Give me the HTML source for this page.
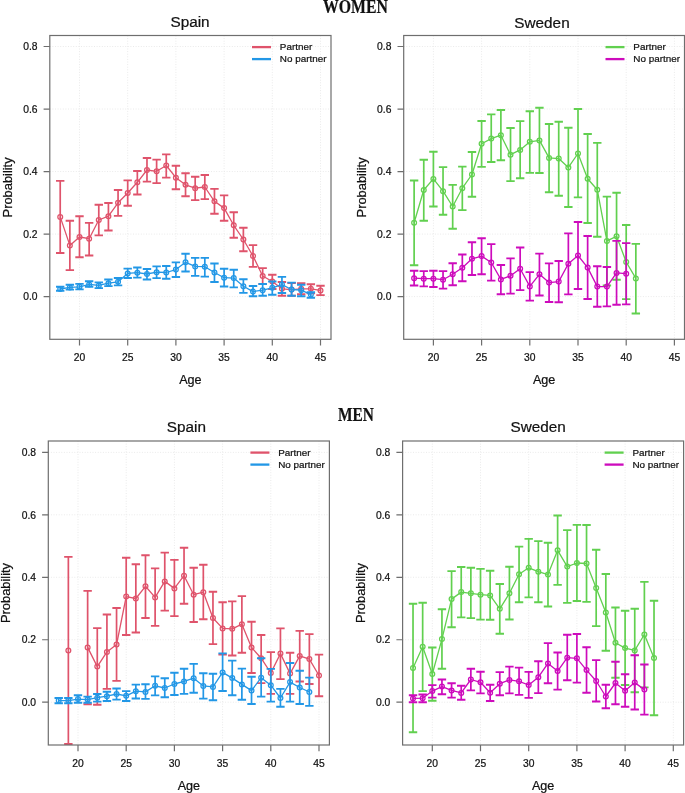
<!DOCTYPE html>
<html><head><meta charset="utf-8"><title>Probability by age</title>
<style>
html,body{margin:0;padding:0;background:#fff;}
body{width:685px;height:793px;overflow:hidden;position:relative;}
svg{position:absolute;left:0;top:0;will-change:transform;}
text{font-family:"Liberation Sans",sans-serif;stroke:#111;stroke-width:0.22px;}
.hd{font-family:"Liberation Serif",serif;font-weight:bold;}
</style></head>
<body>
<svg width="685" height="793" viewBox="0 0 685 793">
<rect width="685" height="793" fill="#fff"/>
<g stroke="#eaeaea" stroke-width="1" stroke-dasharray="1 1.6"><line x1="79.5" y1="35.5" x2="79.5" y2="339.3"/><line x1="127.7" y1="35.5" x2="127.7" y2="339.3"/><line x1="175.9" y1="35.5" x2="175.9" y2="339.3"/><line x1="224.1" y1="35.5" x2="224.1" y2="339.3"/><line x1="272.3" y1="35.5" x2="272.3" y2="339.3"/><line x1="320.5" y1="35.5" x2="320.5" y2="339.3"/><line x1="49.8" y1="296.6" x2="331" y2="296.6"/><line x1="49.8" y1="234.08" x2="331" y2="234.08"/><line x1="49.8" y1="171.56" x2="331" y2="171.56"/><line x1="49.8" y1="109.04" x2="331" y2="109.04"/><line x1="49.8" y1="46.52" x2="331" y2="46.52"/></g>
<path d="M60.22 180.9V253M69.86 220.7V270.1M79.5 216.2V257.2M89.14 222.9V255.5M98.78 204.7V235.4M108.42 203V230.5M118.06 190V215.9M127.7 180.4V205.7M137.34 171V194.5M146.98 158V181.6M156.62 159.6V183.1M166.26 154.4V177.6M175.9 165.8V189.2M185.54 173.3V196.2M195.18 176.8V200.1M204.82 175V199.1M214.46 188.9V213.7M224.1 195.4V220.7M233.74 212.3V237.8M243.38 227.8V251.3M253.02 245.1V266.9M262.66 268.1V284M272.3 274.8V289M281.94 282V295.7M291.58 283V295.7M301.22 283.3V294.2M310.86 284.2V293.2M320.5 285.8V295.1" stroke="#DF536B" stroke-width="1.7" fill="none"/>
<path d="M56.02 180.9H64.42M56.02 253H64.42M65.66 220.7H74.06M65.66 270.1H74.06M75.3 216.2H83.7M75.3 257.2H83.7M84.94 222.9H93.34M84.94 255.5H93.34M94.58 204.7H102.98M94.58 235.4H102.98M104.22 203H112.62M104.22 230.5H112.62M113.86 190H122.26M113.86 215.9H122.26M123.5 180.4H131.9M123.5 205.7H131.9M133.14 171H141.54M133.14 194.5H141.54M142.78 158H151.18M142.78 181.6H151.18M152.42 159.6H160.82M152.42 183.1H160.82M162.06 154.4H170.46M162.06 177.6H170.46M171.7 165.8H180.1M171.7 189.2H180.1M181.34 173.3H189.74M181.34 196.2H189.74M190.98 176.8H199.38M190.98 200.1H199.38M200.62 175H209.02M200.62 199.1H209.02M210.26 188.9H218.66M210.26 213.7H218.66M219.9 195.4H228.3M219.9 220.7H228.3M229.54 212.3H237.94M229.54 237.8H237.94M239.18 227.8H247.58M239.18 251.3H247.58M248.82 245.1H257.22M248.82 266.9H257.22M258.46 268.1H266.86M258.46 284H266.86M268.1 274.8H276.5M268.1 289H276.5M277.74 282H286.14M277.74 295.7H286.14M287.38 283H295.78M287.38 295.7H295.78M297.02 283.3H305.42M297.02 294.2H305.42M306.66 284.2H315.06M306.66 293.2H315.06M316.3 285.8H324.7M316.3 295.1H324.7" stroke="#DF536B" stroke-width="1.9" fill="none"/>
<path d="M60.22 216.9L69.86 245.4L79.5 237L89.14 238.7L98.78 220L108.42 216.2L118.06 202.8L127.7 193L137.34 182.3L146.98 170L156.62 171.3L166.26 165.5L175.9 177.7L185.54 184.8L195.18 188.2L204.82 187L214.46 201.3L224.1 208.1L233.74 225.3L243.38 239.5L253.02 256L262.66 276L272.3 281.5L281.94 288.8L291.58 289.6L301.22 288.8L310.86 288.8L320.5 290.4" stroke="#DF536B" stroke-width="1.3" fill="none" stroke-linejoin="round"/>
<g stroke="#DF536B" stroke-width="1.25" fill="none"><circle cx="60.22" cy="216.9" r="2.4"/><circle cx="69.86" cy="245.4" r="2.4"/><circle cx="79.5" cy="237" r="2.4"/><circle cx="89.14" cy="238.7" r="2.4"/><circle cx="98.78" cy="220" r="2.4"/><circle cx="108.42" cy="216.2" r="2.4"/><circle cx="118.06" cy="202.8" r="2.4"/><circle cx="127.7" cy="193" r="2.4"/><circle cx="137.34" cy="182.3" r="2.4"/><circle cx="146.98" cy="170" r="2.4"/><circle cx="156.62" cy="171.3" r="2.4"/><circle cx="166.26" cy="165.5" r="2.4"/><circle cx="175.9" cy="177.7" r="2.4"/><circle cx="185.54" cy="184.8" r="2.4"/><circle cx="195.18" cy="188.2" r="2.4"/><circle cx="204.82" cy="187" r="2.4"/><circle cx="214.46" cy="201.3" r="2.4"/><circle cx="224.1" cy="208.1" r="2.4"/><circle cx="233.74" cy="225.3" r="2.4"/><circle cx="243.38" cy="239.5" r="2.4"/><circle cx="253.02" cy="256" r="2.4"/><circle cx="262.66" cy="276" r="2.4"/><circle cx="272.3" cy="281.5" r="2.4"/><circle cx="281.94" cy="288.8" r="2.4"/><circle cx="291.58" cy="289.6" r="2.4"/><circle cx="301.22" cy="288.8" r="2.4"/><circle cx="310.86" cy="288.8" r="2.4"/><circle cx="320.5" cy="290.4" r="2.4"/></g>
<path d="M60.22 286.8V290.7M69.86 284.8V289.6M79.5 283.9V289.4M89.14 281.2V286.8M98.78 282.4V288.1M108.42 279.5V286.1M118.06 278V285.4M127.7 268.6V278M137.34 267.5V277.6M146.98 269V279.5M156.62 266.4V278.1M166.26 266V278.8M175.9 262.4V277M185.54 253.7V271.5M195.18 257.9V275.9M204.82 257.9V276.6M214.46 263.5V282M224.1 268.8V286.5M233.74 269.7V287.4M243.38 279.3V292.9M253.02 286V296.3M262.66 284V295.8M272.3 281.5V294.8M281.94 276.9V293M291.58 282.6V295.7M301.22 284.8V296.2M310.86 292.2V297.8" stroke="#2297E6" stroke-width="1.7" fill="none"/>
<path d="M56.02 286.8H64.42M56.02 290.7H64.42M65.66 284.8H74.06M65.66 289.6H74.06M75.3 283.9H83.7M75.3 289.4H83.7M84.94 281.2H93.34M84.94 286.8H93.34M94.58 282.4H102.98M94.58 288.1H102.98M104.22 279.5H112.62M104.22 286.1H112.62M113.86 278H122.26M113.86 285.4H122.26M123.5 268.6H131.9M123.5 278H131.9M133.14 267.5H141.54M133.14 277.6H141.54M142.78 269H151.18M142.78 279.5H151.18M152.42 266.4H160.82M152.42 278.1H160.82M162.06 266H170.46M162.06 278.8H170.46M171.7 262.4H180.1M171.7 277H180.1M181.34 253.7H189.74M181.34 271.5H189.74M190.98 257.9H199.38M190.98 275.9H199.38M200.62 257.9H209.02M200.62 276.6H209.02M210.26 263.5H218.66M210.26 282H218.66M219.9 268.8H228.3M219.9 286.5H228.3M229.54 269.7H237.94M229.54 287.4H237.94M239.18 279.3H247.58M239.18 292.9H247.58M248.82 286H257.22M248.82 296.3H257.22M258.46 284H266.86M258.46 295.8H266.86M268.1 281.5H276.5M268.1 294.8H276.5M277.74 276.9H286.14M277.74 293H286.14M287.38 282.6H295.78M287.38 295.7H295.78M297.02 284.8H305.42M297.02 296.2H305.42M306.66 292.2H315.06M306.66 297.8H315.06" stroke="#2297E6" stroke-width="1.9" fill="none"/>
<path d="M60.22 289L69.86 287.4L79.5 286.8L89.14 284.4L98.78 285.4L108.42 283.2L118.06 281.8L127.7 273.4L137.34 272.7L146.98 274L156.62 272.2L166.26 272.5L175.9 269.6L185.54 262.3L195.18 266.4L204.82 266.7L214.46 272.5L224.1 277.7L233.74 278.1L243.38 286.2L253.02 291.6L262.66 290.2L272.3 287.8L281.94 284.6L291.58 289.5L301.22 290.2L310.86 294.6" stroke="#2297E6" stroke-width="1.3" fill="none" stroke-linejoin="round"/>
<g stroke="#2297E6" stroke-width="1.25" fill="none"><circle cx="60.22" cy="289" r="2.4"/><circle cx="69.86" cy="287.4" r="2.4"/><circle cx="79.5" cy="286.8" r="2.4"/><circle cx="89.14" cy="284.4" r="2.4"/><circle cx="98.78" cy="285.4" r="2.4"/><circle cx="108.42" cy="283.2" r="2.4"/><circle cx="118.06" cy="281.8" r="2.4"/><circle cx="127.7" cy="273.4" r="2.4"/><circle cx="137.34" cy="272.7" r="2.4"/><circle cx="146.98" cy="274" r="2.4"/><circle cx="156.62" cy="272.2" r="2.4"/><circle cx="166.26" cy="272.5" r="2.4"/><circle cx="175.9" cy="269.6" r="2.4"/><circle cx="185.54" cy="262.3" r="2.4"/><circle cx="195.18" cy="266.4" r="2.4"/><circle cx="204.82" cy="266.7" r="2.4"/><circle cx="214.46" cy="272.5" r="2.4"/><circle cx="224.1" cy="277.7" r="2.4"/><circle cx="233.74" cy="278.1" r="2.4"/><circle cx="243.38" cy="286.2" r="2.4"/><circle cx="253.02" cy="291.6" r="2.4"/><circle cx="262.66" cy="290.2" r="2.4"/><circle cx="272.3" cy="287.8" r="2.4"/><circle cx="281.94" cy="284.6" r="2.4"/><circle cx="291.58" cy="289.5" r="2.4"/><circle cx="301.22" cy="290.2" r="2.4"/><circle cx="310.86" cy="294.6" r="2.4"/></g>
<rect x="49.8" y="35.5" width="281.2" height="303.8" fill="none" stroke="#6e6e6e" stroke-width="1.2"/>
<path d="M79.5 339.3V345.5M127.7 339.3V345.5M175.9 339.3V345.5M224.1 339.3V345.5M272.3 339.3V345.5M320.5 339.3V345.5M43.6 296.6H49.8M43.6 234.08H49.8M43.6 171.56H49.8M43.6 109.04H49.8M43.6 46.52H49.8" stroke="#6e6e6e" stroke-width="1.2" fill="none"/>
<g font-size="10.3" fill="#111111"><text x="79.5" y="361.1" text-anchor="middle">20</text><text x="127.7" y="361.1" text-anchor="middle">25</text><text x="175.9" y="361.1" text-anchor="middle">30</text><text x="224.1" y="361.1" text-anchor="middle">35</text><text x="272.3" y="361.1" text-anchor="middle">40</text><text x="320.5" y="361.1" text-anchor="middle">45</text><text x="37.5" y="300.3" text-anchor="end">0.0</text><text x="37.5" y="237.78" text-anchor="end">0.2</text><text x="37.5" y="175.26" text-anchor="end">0.4</text><text x="37.5" y="112.74" text-anchor="end">0.6</text><text x="37.5" y="50.22" text-anchor="end">0.8</text></g>
<text x="190.4" y="383.9" text-anchor="middle" font-size="12.6" fill="#111111">Age</text>
<text transform="translate(11.8 187.4) rotate(-90)" text-anchor="middle" font-size="12.85" fill="#111111">Probability</text>
<text x="190" y="27.3" text-anchor="middle" font-size="15.3" fill="#111111">Spain</text>
<path d="M252 47.1H271" stroke="#DF536B" stroke-width="2.3"/>
<path d="M252 59.1H271" stroke="#2297E6" stroke-width="2.3"/>
<g font-size="9.9" fill="#111111"><text x="279.8" y="50.2">Partner</text><text x="279.8" y="62.2">No partner</text></g>
<g stroke="#eaeaea" stroke-width="1" stroke-dasharray="1 1.6"><line x1="433.4" y1="35.5" x2="433.4" y2="339.3"/><line x1="481.6" y1="35.5" x2="481.6" y2="339.3"/><line x1="529.8" y1="35.5" x2="529.8" y2="339.3"/><line x1="578" y1="35.5" x2="578" y2="339.3"/><line x1="626.2" y1="35.5" x2="626.2" y2="339.3"/><line x1="674.4" y1="35.5" x2="674.4" y2="339.3"/><line x1="403.7" y1="296.6" x2="684.5" y2="296.6"/><line x1="403.7" y1="234.08" x2="684.5" y2="234.08"/><line x1="403.7" y1="171.56" x2="684.5" y2="171.56"/><line x1="403.7" y1="109.04" x2="684.5" y2="109.04"/><line x1="403.7" y1="46.52" x2="684.5" y2="46.52"/></g>
<path d="M414.12 180.5V265.2M423.76 159.8V220.8M433.4 151.8V206.5M443.04 167.1V214.8M452.68 184.9V228.7M462.32 166.6V210.1M471.96 152V196.7M481.6 121V166.9M491.24 114.4V162M500.88 110V160.2M510.52 128V181.1M520.16 121.1V178.2M529.8 111.2V172.9M539.44 107.8V173M549.08 124V192.3M558.72 121.7V195.8M568.36 127.7V207M578 109V197.4M587.64 134V223M597.28 142.9V236.8M606.92 196.6V285.5M616.56 192.7V279.8M626.2 225V299.1M635.84 243.9V313.5" stroke="#61D04F" stroke-width="1.7" fill="none"/>
<path d="M409.92 180.5H418.32M409.92 265.2H418.32M419.56 159.8H427.96M419.56 220.8H427.96M429.2 151.8H437.6M429.2 206.5H437.6M438.84 167.1H447.24M438.84 214.8H447.24M448.48 184.9H456.88M448.48 228.7H456.88M458.12 166.6H466.52M458.12 210.1H466.52M467.76 152H476.16M467.76 196.7H476.16M477.4 121H485.8M477.4 166.9H485.8M487.04 114.4H495.44M487.04 162H495.44M496.68 110H505.08M496.68 160.2H505.08M506.32 128H514.72M506.32 181.1H514.72M515.96 121.1H524.36M515.96 178.2H524.36M525.6 111.2H534M525.6 172.9H534M535.24 107.8H543.64M535.24 173H543.64M544.88 124H553.28M544.88 192.3H553.28M554.52 121.7H562.92M554.52 195.8H562.92M564.16 127.7H572.56M564.16 207H572.56M573.8 109H582.2M573.8 197.4H582.2M583.44 134H591.84M583.44 223H591.84M593.08 142.9H601.48M593.08 236.8H601.48M602.72 196.6H611.12M602.72 285.5H611.12M612.36 192.7H620.76M612.36 279.8H620.76M622 225H630.4M622 299.1H630.4M631.64 243.9H640.04M631.64 313.5H640.04" stroke="#61D04F" stroke-width="1.9" fill="none"/>
<path d="M414.12 222.8L423.76 190L433.4 178.9L443.04 191.2L452.68 206.5L462.32 188.2L471.96 174.5L481.6 143.7L491.24 138.6L500.88 135.2L510.52 154.7L520.16 149.9L529.8 141.8L539.44 140.4L549.08 157.9L558.72 158.6L568.36 167.4L578 153.5L587.64 178.7L597.28 189.8L606.92 240.9L616.56 236.3L626.2 262L635.84 278.4" stroke="#61D04F" stroke-width="1.3" fill="none" stroke-linejoin="round"/>
<g stroke="#61D04F" stroke-width="1.25" fill="none"><circle cx="414.12" cy="222.8" r="2.4"/><circle cx="423.76" cy="190" r="2.4"/><circle cx="433.4" cy="178.9" r="2.4"/><circle cx="443.04" cy="191.2" r="2.4"/><circle cx="452.68" cy="206.5" r="2.4"/><circle cx="462.32" cy="188.2" r="2.4"/><circle cx="471.96" cy="174.5" r="2.4"/><circle cx="481.6" cy="143.7" r="2.4"/><circle cx="491.24" cy="138.6" r="2.4"/><circle cx="500.88" cy="135.2" r="2.4"/><circle cx="510.52" cy="154.7" r="2.4"/><circle cx="520.16" cy="149.9" r="2.4"/><circle cx="529.8" cy="141.8" r="2.4"/><circle cx="539.44" cy="140.4" r="2.4"/><circle cx="549.08" cy="157.9" r="2.4"/><circle cx="558.72" cy="158.6" r="2.4"/><circle cx="568.36" cy="167.4" r="2.4"/><circle cx="578" cy="153.5" r="2.4"/><circle cx="587.64" cy="178.7" r="2.4"/><circle cx="597.28" cy="189.8" r="2.4"/><circle cx="606.92" cy="240.9" r="2.4"/><circle cx="616.56" cy="236.3" r="2.4"/><circle cx="626.2" cy="262" r="2.4"/><circle cx="635.84" cy="278.4" r="2.4"/></g>
<path d="M414.12 270.7V285.5M423.76 271.1V286.4M433.4 270.7V287M443.04 271.1V288.6M452.68 263.3V285.3M462.32 254.5V281.3M471.96 242.2V275M481.6 238.2V274.3M491.24 244.1V280.6M500.88 265V294.3M510.52 258.4V293.6M520.16 247.5V290.1M529.8 272.1V300.6M539.44 253.6V295.5M549.08 263.4V302M558.72 261V302.3M568.36 233.4V294.4M578 222V289M587.64 236V299M597.28 266.3V306.7M606.92 267V306.4M616.56 240.9V304.7M626.2 243.1V304.4" stroke="#CD0BBC" stroke-width="1.7" fill="none"/>
<path d="M409.92 270.7H418.32M409.92 285.5H418.32M419.56 271.1H427.96M419.56 286.4H427.96M429.2 270.7H437.6M429.2 287H437.6M438.84 271.1H447.24M438.84 288.6H447.24M448.48 263.3H456.88M448.48 285.3H456.88M458.12 254.5H466.52M458.12 281.3H466.52M467.76 242.2H476.16M467.76 275H476.16M477.4 238.2H485.8M477.4 274.3H485.8M487.04 244.1H495.44M487.04 280.6H495.44M496.68 265H505.08M496.68 294.3H505.08M506.32 258.4H514.72M506.32 293.6H514.72M515.96 247.5H524.36M515.96 290.1H524.36M525.6 272.1H534M525.6 300.6H534M535.24 253.6H543.64M535.24 295.5H543.64M544.88 263.4H553.28M544.88 302H553.28M554.52 261H562.92M554.52 302.3H562.92M564.16 233.4H572.56M564.16 294.4H572.56M573.8 222H582.2M573.8 289H582.2M583.44 236H591.84M583.44 299H591.84M593.08 266.3H601.48M593.08 306.7H601.48M602.72 267H611.12M602.72 306.4H611.12M612.36 240.9H620.76M612.36 304.7H620.76M622 243.1H630.4M622 304.4H630.4" stroke="#CD0BBC" stroke-width="1.9" fill="none"/>
<path d="M414.12 278.2L423.76 278.7L433.4 278.7L443.04 279.7L452.68 274.3L462.32 267.8L471.96 258.8L481.6 256.1L491.24 262.5L500.88 279.4L510.52 275.8L520.16 268.7L529.8 286.4L539.44 274.3L549.08 282.6L558.72 281.6L568.36 263.8L578 255.5L587.64 267.6L597.28 286.6L606.92 286.6L616.56 272.9L626.2 273.7" stroke="#CD0BBC" stroke-width="1.3" fill="none" stroke-linejoin="round"/>
<g stroke="#CD0BBC" stroke-width="1.25" fill="none"><circle cx="414.12" cy="278.2" r="2.4"/><circle cx="423.76" cy="278.7" r="2.4"/><circle cx="433.4" cy="278.7" r="2.4"/><circle cx="443.04" cy="279.7" r="2.4"/><circle cx="452.68" cy="274.3" r="2.4"/><circle cx="462.32" cy="267.8" r="2.4"/><circle cx="471.96" cy="258.8" r="2.4"/><circle cx="481.6" cy="256.1" r="2.4"/><circle cx="491.24" cy="262.5" r="2.4"/><circle cx="500.88" cy="279.4" r="2.4"/><circle cx="510.52" cy="275.8" r="2.4"/><circle cx="520.16" cy="268.7" r="2.4"/><circle cx="529.8" cy="286.4" r="2.4"/><circle cx="539.44" cy="274.3" r="2.4"/><circle cx="549.08" cy="282.6" r="2.4"/><circle cx="558.72" cy="281.6" r="2.4"/><circle cx="568.36" cy="263.8" r="2.4"/><circle cx="578" cy="255.5" r="2.4"/><circle cx="587.64" cy="267.6" r="2.4"/><circle cx="597.28" cy="286.6" r="2.4"/><circle cx="606.92" cy="286.6" r="2.4"/><circle cx="616.56" cy="272.9" r="2.4"/><circle cx="626.2" cy="273.7" r="2.4"/></g>
<rect x="403.7" y="35.5" width="280.8" height="303.8" fill="none" stroke="#6e6e6e" stroke-width="1.2"/>
<path d="M433.4 339.3V345.5M481.6 339.3V345.5M529.8 339.3V345.5M578 339.3V345.5M626.2 339.3V345.5M674.4 339.3V345.5M397.5 296.6H403.7M397.5 234.08H403.7M397.5 171.56H403.7M397.5 109.04H403.7M397.5 46.52H403.7" stroke="#6e6e6e" stroke-width="1.2" fill="none"/>
<g font-size="10.3" fill="#111111"><text x="433.4" y="361.1" text-anchor="middle">20</text><text x="481.6" y="361.1" text-anchor="middle">25</text><text x="529.8" y="361.1" text-anchor="middle">30</text><text x="578" y="361.1" text-anchor="middle">35</text><text x="626.2" y="361.1" text-anchor="middle">40</text><text x="674.4" y="361.1" text-anchor="middle">45</text><text x="391.4" y="300.3" text-anchor="end">0.0</text><text x="391.4" y="237.78" text-anchor="end">0.2</text><text x="391.4" y="175.26" text-anchor="end">0.4</text><text x="391.4" y="112.74" text-anchor="end">0.6</text><text x="391.4" y="50.22" text-anchor="end">0.8</text></g>
<text x="544.1" y="383.9" text-anchor="middle" font-size="12.6" fill="#111111">Age</text>
<text transform="translate(365.7 187.4) rotate(-90)" text-anchor="middle" font-size="12.85" fill="#111111">Probability</text>
<text x="542" y="27.6" text-anchor="middle" font-size="15.3" fill="#111111">Sweden</text>
<path d="M605.5 47.1H624.5" stroke="#61D04F" stroke-width="2.3"/>
<path d="M605.5 59.1H624.5" stroke="#CD0BBC" stroke-width="2.3"/>
<g font-size="9.9" fill="#111111"><text x="633.3" y="50.2">Partner</text><text x="633.3" y="62.2">No partner</text></g>
<g stroke="#eaeaea" stroke-width="1" stroke-dasharray="1 1.6"><line x1="78" y1="441" x2="78" y2="745"/><line x1="126.2" y1="441" x2="126.2" y2="745"/><line x1="174.4" y1="441" x2="174.4" y2="745"/><line x1="222.6" y1="441" x2="222.6" y2="745"/><line x1="270.8" y1="441" x2="270.8" y2="745"/><line x1="319" y1="441" x2="319" y2="745"/><line x1="48.3" y1="702.2" x2="329.4" y2="702.2"/><line x1="48.3" y1="639.74" x2="329.4" y2="639.74"/><line x1="48.3" y1="577.28" x2="329.4" y2="577.28"/><line x1="48.3" y1="514.82" x2="329.4" y2="514.82"/><line x1="48.3" y1="452.36" x2="329.4" y2="452.36"/></g>
<path d="M68.36 556.9V744M87.64 590.9V704.2M97.28 628.1V704.7M106.92 614.5V688.9M116.56 608V680.9M126.2 557.7V635M135.84 564.2V632.5M145.48 555.3V618M155.12 568.4V625.9M164.76 552.6V610.6M174.4 559.9V616.1M184.04 547.8V603.7M193.68 567.7V622M203.32 564.7V619.3M212.96 591.7V644.1M222.6 602.2V654.6M232.24 601.4V655.5M241.88 596.1V652.7M251.52 621.8V673M261.16 635V683.1M270.8 652.1V693.9M280.44 628.4V679.1M290.08 652.7V693.9M299.72 630.9V681.5M309.36 634.1V684M319 654.6V696.2" stroke="#DF536B" stroke-width="1.7" fill="none"/>
<path d="M64.16 556.9H72.56M64.16 744H72.56M83.44 590.9H91.84M83.44 704.2H91.84M93.08 628.1H101.48M93.08 704.7H101.48M102.72 614.5H111.12M102.72 688.9H111.12M112.36 608H120.76M112.36 680.9H120.76M122 557.7H130.4M122 635H130.4M131.64 564.2H140.04M131.64 632.5H140.04M141.28 555.3H149.68M141.28 618H149.68M150.92 568.4H159.32M150.92 625.9H159.32M160.56 552.6H168.96M160.56 610.6H168.96M170.2 559.9H178.6M170.2 616.1H178.6M179.84 547.8H188.24M179.84 603.7H188.24M189.48 567.7H197.88M189.48 622H197.88M199.12 564.7H207.52M199.12 619.3H207.52M208.76 591.7H217.16M208.76 644.1H217.16M218.4 602.2H226.8M218.4 654.6H226.8M228.04 601.4H236.44M228.04 655.5H236.44M237.68 596.1H246.08M237.68 652.7H246.08M247.32 621.8H255.72M247.32 673H255.72M256.96 635H265.36M256.96 683.1H265.36M266.6 652.1H275M266.6 693.9H275M276.24 628.4H284.64M276.24 679.1H284.64M285.88 652.7H294.28M285.88 693.9H294.28M295.52 630.9H303.92M295.52 681.5H303.92M305.16 634.1H313.56M305.16 684H313.56M314.8 654.6H323.2M314.8 696.2H323.2" stroke="#DF536B" stroke-width="1.9" fill="none"/>
<path d="M68.36 650.4M87.64 647.4L97.28 666.6L106.92 651.9L116.56 644.5L126.2 596.6L135.84 598.5L145.48 586.3L155.12 597.4L164.76 581.4L174.4 588.4L184.04 575.7L193.68 594.7L203.32 592.2L212.96 618L222.6 628.4L232.24 628.8L241.88 624.2L251.52 647.4L261.16 658.2L270.8 673L280.44 653.6L290.08 673.6L299.72 655.9L309.36 659.1L319 675.5" stroke="#DF536B" stroke-width="1.3" fill="none" stroke-linejoin="round"/>
<g stroke="#DF536B" stroke-width="1.25" fill="none"><circle cx="68.36" cy="650.4" r="2.4"/><circle cx="87.64" cy="647.4" r="2.4"/><circle cx="97.28" cy="666.6" r="2.4"/><circle cx="106.92" cy="651.9" r="2.4"/><circle cx="116.56" cy="644.5" r="2.4"/><circle cx="126.2" cy="596.6" r="2.4"/><circle cx="135.84" cy="598.5" r="2.4"/><circle cx="145.48" cy="586.3" r="2.4"/><circle cx="155.12" cy="597.4" r="2.4"/><circle cx="164.76" cy="581.4" r="2.4"/><circle cx="174.4" cy="588.4" r="2.4"/><circle cx="184.04" cy="575.7" r="2.4"/><circle cx="193.68" cy="594.7" r="2.4"/><circle cx="203.32" cy="592.2" r="2.4"/><circle cx="212.96" cy="618" r="2.4"/><circle cx="222.6" cy="628.4" r="2.4"/><circle cx="232.24" cy="628.8" r="2.4"/><circle cx="241.88" cy="624.2" r="2.4"/><circle cx="251.52" cy="647.4" r="2.4"/><circle cx="261.16" cy="658.2" r="2.4"/><circle cx="270.8" cy="673" r="2.4"/><circle cx="280.44" cy="653.6" r="2.4"/><circle cx="290.08" cy="673.6" r="2.4"/><circle cx="299.72" cy="655.9" r="2.4"/><circle cx="309.36" cy="659.1" r="2.4"/><circle cx="319" cy="675.5" r="2.4"/></g>
<path d="M58.72 698V703.2M68.36 698V703.2M78 695.2V702.8M87.64 696.6V702.8M97.28 694V701.6M106.92 691.8V701M116.56 688.5V699.6M126.2 691.1V701M135.84 684.6V698.5M145.48 684.2V698.9M155.12 676.4V695.4M164.76 678.2V697.2M174.4 672.8V695M184.04 668.7V693.9M193.68 663.9V692.8M203.32 673.2V698.6M212.96 673.7V700.2M222.6 653.4V691M232.24 660.6V695.3M241.88 668.6V699.8M251.52 676.7V704M261.16 658.3V696.6M270.8 668.9V701.6M280.44 688.9V706.8M290.08 663V701.6M299.72 670.7V704M309.36 677.6V705.9" stroke="#2297E6" stroke-width="1.7" fill="none"/>
<path d="M54.52 698H62.92M54.52 703.2H62.92M64.16 698H72.56M64.16 703.2H72.56M73.8 695.2H82.2M73.8 702.8H82.2M83.44 696.6H91.84M83.44 702.8H91.84M93.08 694H101.48M93.08 701.6H101.48M102.72 691.8H111.12M102.72 701H111.12M112.36 688.5H120.76M112.36 699.6H120.76M122 691.1H130.4M122 701H130.4M131.64 684.6H140.04M131.64 698.5H140.04M141.28 684.2H149.68M141.28 698.9H149.68M150.92 676.4H159.32M150.92 695.4H159.32M160.56 678.2H168.96M160.56 697.2H168.96M170.2 672.8H178.6M170.2 695H178.6M179.84 668.7H188.24M179.84 693.9H188.24M189.48 663.9H197.88M189.48 692.8H197.88M199.12 673.2H207.52M199.12 698.6H207.52M208.76 673.7H217.16M208.76 700.2H217.16M218.4 653.4H226.8M218.4 691H226.8M228.04 660.6H236.44M228.04 695.3H236.44M237.68 668.6H246.08M237.68 699.8H246.08M247.32 676.7H255.72M247.32 704H255.72M256.96 658.3H265.36M256.96 696.6H265.36M266.6 668.9H275M266.6 701.6H275M276.24 688.9H284.64M276.24 706.8H284.64M285.88 663H294.28M285.88 701.6H294.28M295.52 670.7H303.92M295.52 704H303.92M305.16 677.6H313.56M305.16 705.9H313.56" stroke="#2297E6" stroke-width="1.9" fill="none"/>
<path d="M58.72 700.6L68.36 700.6L78 699.1L87.64 699.6L97.28 697.7L106.92 696.2L116.56 694L126.2 695.8L135.84 691.2L145.48 691.9L155.12 685.8L164.76 688L174.4 684L184.04 681.4L193.68 678.2L203.32 685.9L212.96 686.9L222.6 672.4L232.24 678.1L241.88 684.4L251.52 690.6L261.16 677.7L270.8 685.2L280.44 698L290.08 682.1L299.72 687.5L309.36 692" stroke="#2297E6" stroke-width="1.3" fill="none" stroke-linejoin="round"/>
<g stroke="#2297E6" stroke-width="1.25" fill="none"><circle cx="58.72" cy="700.6" r="2.4"/><circle cx="68.36" cy="700.6" r="2.4"/><circle cx="78" cy="699.1" r="2.4"/><circle cx="87.64" cy="699.6" r="2.4"/><circle cx="97.28" cy="697.7" r="2.4"/><circle cx="106.92" cy="696.2" r="2.4"/><circle cx="116.56" cy="694" r="2.4"/><circle cx="126.2" cy="695.8" r="2.4"/><circle cx="135.84" cy="691.2" r="2.4"/><circle cx="145.48" cy="691.9" r="2.4"/><circle cx="155.12" cy="685.8" r="2.4"/><circle cx="164.76" cy="688" r="2.4"/><circle cx="174.4" cy="684" r="2.4"/><circle cx="184.04" cy="681.4" r="2.4"/><circle cx="193.68" cy="678.2" r="2.4"/><circle cx="203.32" cy="685.9" r="2.4"/><circle cx="212.96" cy="686.9" r="2.4"/><circle cx="222.6" cy="672.4" r="2.4"/><circle cx="232.24" cy="678.1" r="2.4"/><circle cx="241.88" cy="684.4" r="2.4"/><circle cx="251.52" cy="690.6" r="2.4"/><circle cx="261.16" cy="677.7" r="2.4"/><circle cx="270.8" cy="685.2" r="2.4"/><circle cx="280.44" cy="698" r="2.4"/><circle cx="290.08" cy="682.1" r="2.4"/><circle cx="299.72" cy="687.5" r="2.4"/><circle cx="309.36" cy="692" r="2.4"/></g>
<rect x="48.3" y="441" width="281.1" height="304" fill="none" stroke="#6e6e6e" stroke-width="1.2"/>
<path d="M78 745V751.2M126.2 745V751.2M174.4 745V751.2M222.6 745V751.2M270.8 745V751.2M319 745V751.2M42.1 702.2H48.3M42.1 639.74H48.3M42.1 577.28H48.3M42.1 514.82H48.3M42.1 452.36H48.3" stroke="#6e6e6e" stroke-width="1.2" fill="none"/>
<g font-size="10.3" fill="#111111"><text x="78" y="766.8" text-anchor="middle">20</text><text x="126.2" y="766.8" text-anchor="middle">25</text><text x="174.4" y="766.8" text-anchor="middle">30</text><text x="222.6" y="766.8" text-anchor="middle">35</text><text x="270.8" y="766.8" text-anchor="middle">40</text><text x="319" y="766.8" text-anchor="middle">45</text><text x="36" y="705.9" text-anchor="end">0.0</text><text x="36" y="643.44" text-anchor="end">0.2</text><text x="36" y="580.98" text-anchor="end">0.4</text><text x="36" y="518.52" text-anchor="end">0.6</text><text x="36" y="456.06" text-anchor="end">0.8</text></g>
<text x="188.85" y="789.6" text-anchor="middle" font-size="12.6" fill="#111111">Age</text>
<text transform="translate(10.3 593) rotate(-90)" text-anchor="middle" font-size="12.85" fill="#111111">Probability</text>
<text x="186.4" y="431.8" text-anchor="middle" font-size="15.3" fill="#111111">Spain</text>
<path d="M250.4 452.6H269.4" stroke="#DF536B" stroke-width="2.3"/>
<path d="M250.4 464.6H269.4" stroke="#2297E6" stroke-width="2.3"/>
<g font-size="9.9" fill="#111111"><text x="278.2" y="455.7">Partner</text><text x="278.2" y="467.7">No partner</text></g>
<g stroke="#eaeaea" stroke-width="1" stroke-dasharray="1 1.6"><line x1="432.3" y1="441" x2="432.3" y2="745"/><line x1="480.5" y1="441" x2="480.5" y2="745"/><line x1="528.7" y1="441" x2="528.7" y2="745"/><line x1="576.9" y1="441" x2="576.9" y2="745"/><line x1="625.1" y1="441" x2="625.1" y2="745"/><line x1="673.3" y1="441" x2="673.3" y2="745"/><line x1="402.6" y1="702.2" x2="683.6" y2="702.2"/><line x1="402.6" y1="639.74" x2="683.6" y2="639.74"/><line x1="402.6" y1="577.28" x2="683.6" y2="577.28"/><line x1="402.6" y1="514.82" x2="683.6" y2="514.82"/><line x1="402.6" y1="452.36" x2="683.6" y2="452.36"/></g>
<path d="M413.02 603.8V732.3M422.66 602.8V691.1M432.3 647.5V700.7M441.94 609.3V668.7M451.58 571.1V627.2M461.22 567V617.4M470.86 567.7V618.1M480.5 568.9V619.6M490.14 570.7V619.8M499.78 584V633.8M509.42 566.8V619.5M519.06 546.6V602.2M528.7 538.9V597.4M538.34 541.1V602.2M547.98 542.7V606.5M557.62 515.5V584.9M567.26 530.1V602.9M576.9 524.9V601M586.54 525V601.9M596.18 549.8V626.1M605.82 574V650.7M615.46 607.5V677.8M625.1 610.8V685M634.74 608.7V692.2M644.38 581.9V687.4M654.02 600.8V715.3" stroke="#61D04F" stroke-width="1.7" fill="none"/>
<path d="M408.82 603.8H417.22M408.82 732.3H417.22M418.46 602.8H426.86M418.46 691.1H426.86M428.1 647.5H436.5M428.1 700.7H436.5M437.74 609.3H446.14M437.74 668.7H446.14M447.38 571.1H455.78M447.38 627.2H455.78M457.02 567H465.42M457.02 617.4H465.42M466.66 567.7H475.06M466.66 618.1H475.06M476.3 568.9H484.7M476.3 619.6H484.7M485.94 570.7H494.34M485.94 619.8H494.34M495.58 584H503.98M495.58 633.8H503.98M505.22 566.8H513.62M505.22 619.5H513.62M514.86 546.6H523.26M514.86 602.2H523.26M524.5 538.9H532.9M524.5 597.4H532.9M534.14 541.1H542.54M534.14 602.2H542.54M543.78 542.7H552.18M543.78 606.5H552.18M553.42 515.5H561.82M553.42 584.9H561.82M563.06 530.1H571.46M563.06 602.9H571.46M572.7 524.9H581.1M572.7 601H581.1M582.34 525H590.74M582.34 601.9H590.74M591.98 549.8H600.38M591.98 626.1H600.38M601.62 574H610.02M601.62 650.7H610.02M611.26 607.5H619.66M611.26 677.8H619.66M620.9 610.8H629.3M620.9 685H629.3M630.54 608.7H638.94M630.54 692.2H638.94M640.18 581.9H648.58M640.18 687.4H648.58M649.82 600.8H658.22M649.82 715.3H658.22" stroke="#61D04F" stroke-width="1.9" fill="none"/>
<path d="M413.02 668L422.66 646.8L432.3 674L441.94 639.1L451.58 599.1L461.22 592.1L470.86 593.3L480.5 594.7L490.14 595.4L499.78 608.8L509.42 593.3L519.06 574.3L528.7 567.8L538.34 571.7L547.98 574.6L557.62 550.3L567.26 566.6L576.9 563L586.54 563.5L596.18 587.9L605.82 612.5L615.46 642.7L625.1 648.1L634.74 650.4L644.38 634.5L654.02 658" stroke="#61D04F" stroke-width="1.3" fill="none" stroke-linejoin="round"/>
<g stroke="#61D04F" stroke-width="1.25" fill="none"><circle cx="413.02" cy="668" r="2.4"/><circle cx="422.66" cy="646.8" r="2.4"/><circle cx="432.3" cy="674" r="2.4"/><circle cx="441.94" cy="639.1" r="2.4"/><circle cx="451.58" cy="599.1" r="2.4"/><circle cx="461.22" cy="592.1" r="2.4"/><circle cx="470.86" cy="593.3" r="2.4"/><circle cx="480.5" cy="594.7" r="2.4"/><circle cx="490.14" cy="595.4" r="2.4"/><circle cx="499.78" cy="608.8" r="2.4"/><circle cx="509.42" cy="593.3" r="2.4"/><circle cx="519.06" cy="574.3" r="2.4"/><circle cx="528.7" cy="567.8" r="2.4"/><circle cx="538.34" cy="571.7" r="2.4"/><circle cx="547.98" cy="574.6" r="2.4"/><circle cx="557.62" cy="550.3" r="2.4"/><circle cx="567.26" cy="566.6" r="2.4"/><circle cx="576.9" cy="563" r="2.4"/><circle cx="586.54" cy="563.5" r="2.4"/><circle cx="596.18" cy="587.9" r="2.4"/><circle cx="605.82" cy="612.5" r="2.4"/><circle cx="615.46" cy="642.7" r="2.4"/><circle cx="625.1" cy="648.1" r="2.4"/><circle cx="634.74" cy="650.4" r="2.4"/><circle cx="644.38" cy="634.5" r="2.4"/><circle cx="654.02" cy="658" r="2.4"/></g>
<path d="M413.02 695.2V702.2M422.66 694.5V702.2M432.3 685.1V697.6M441.94 679.5V694.2M451.58 683.3V697.6M461.22 685.8V699.8M470.86 668.7V690.4M480.5 671.8V693.4M490.14 684.8V701M499.78 672.1V695.3M509.42 666.6V693.4M519.06 667.6V694.9M528.7 671.9V697.9M538.34 661.3V693.1M547.98 643.1V683.2M557.62 652.5V689.6M567.26 634.8V680.2M576.9 634V682.6M586.54 647.2V692.7M596.18 660.1V701.5M605.82 684.7V708.3M615.46 661.7V704.2M625.1 674.3V706.8M634.74 655.2V709.5M644.38 664.5V714.6" stroke="#CD0BBC" stroke-width="1.7" fill="none"/>
<path d="M408.82 695.2H417.22M408.82 702.2H417.22M418.46 694.5H426.86M418.46 702.2H426.86M428.1 685.1H436.5M428.1 697.6H436.5M437.74 679.5H446.14M437.74 694.2H446.14M447.38 683.3H455.78M447.38 697.6H455.78M457.02 685.8H465.42M457.02 699.8H465.42M466.66 668.7H475.06M466.66 690.4H475.06M476.3 671.8H484.7M476.3 693.4H484.7M485.94 684.8H494.34M485.94 701H494.34M495.58 672.1H503.98M495.58 695.3H503.98M505.22 666.6H513.62M505.22 693.4H513.62M514.86 667.6H523.26M514.86 694.9H523.26M524.5 671.9H532.9M524.5 697.9H532.9M534.14 661.3H542.54M534.14 693.1H542.54M543.78 643.1H552.18M543.78 683.2H552.18M553.42 652.5H561.82M553.42 689.6H561.82M563.06 634.8H571.46M563.06 680.2H571.46M572.7 634H581.1M572.7 682.6H581.1M582.34 647.2H590.74M582.34 692.7H590.74M591.98 660.1H600.38M591.98 701.5H600.38M601.62 684.7H610.02M601.62 708.3H610.02M611.26 661.7H619.66M611.26 704.2H619.66M620.9 674.3H629.3M620.9 706.8H629.3M630.54 655.2H638.94M630.54 709.5H638.94M640.18 664.5H648.58M640.18 714.6H648.58" stroke="#CD0BBC" stroke-width="1.9" fill="none"/>
<path d="M413.02 698.4L422.66 698.2L432.3 691.1L441.94 686.6L451.58 690.4L461.22 692.9L470.86 679.5L480.5 682.3L490.14 692.8L499.78 683.7L509.42 679.9L519.06 681.3L528.7 685L538.34 677.2L547.98 663.4L557.62 671.1L567.26 657.7L576.9 658.3L586.54 670.1L596.18 681L605.82 696.5L615.46 683L625.1 690.7L634.74 682.6L644.38 689.6" stroke="#CD0BBC" stroke-width="1.3" fill="none" stroke-linejoin="round"/>
<g stroke="#CD0BBC" stroke-width="1.25" fill="none"><circle cx="413.02" cy="698.4" r="2.4"/><circle cx="422.66" cy="698.2" r="2.4"/><circle cx="432.3" cy="691.1" r="2.4"/><circle cx="441.94" cy="686.6" r="2.4"/><circle cx="451.58" cy="690.4" r="2.4"/><circle cx="461.22" cy="692.9" r="2.4"/><circle cx="470.86" cy="679.5" r="2.4"/><circle cx="480.5" cy="682.3" r="2.4"/><circle cx="490.14" cy="692.8" r="2.4"/><circle cx="499.78" cy="683.7" r="2.4"/><circle cx="509.42" cy="679.9" r="2.4"/><circle cx="519.06" cy="681.3" r="2.4"/><circle cx="528.7" cy="685" r="2.4"/><circle cx="538.34" cy="677.2" r="2.4"/><circle cx="547.98" cy="663.4" r="2.4"/><circle cx="557.62" cy="671.1" r="2.4"/><circle cx="567.26" cy="657.7" r="2.4"/><circle cx="576.9" cy="658.3" r="2.4"/><circle cx="586.54" cy="670.1" r="2.4"/><circle cx="596.18" cy="681" r="2.4"/><circle cx="605.82" cy="696.5" r="2.4"/><circle cx="615.46" cy="683" r="2.4"/><circle cx="625.1" cy="690.7" r="2.4"/><circle cx="634.74" cy="682.6" r="2.4"/><circle cx="644.38" cy="689.6" r="2.4"/></g>
<rect x="402.6" y="441" width="281" height="304" fill="none" stroke="#6e6e6e" stroke-width="1.2"/>
<path d="M432.3 745V751.2M480.5 745V751.2M528.7 745V751.2M576.9 745V751.2M625.1 745V751.2M673.3 745V751.2M396.4 702.2H402.6M396.4 639.74H402.6M396.4 577.28H402.6M396.4 514.82H402.6M396.4 452.36H402.6" stroke="#6e6e6e" stroke-width="1.2" fill="none"/>
<g font-size="10.3" fill="#111111"><text x="432.3" y="766.8" text-anchor="middle">20</text><text x="480.5" y="766.8" text-anchor="middle">25</text><text x="528.7" y="766.8" text-anchor="middle">30</text><text x="576.9" y="766.8" text-anchor="middle">35</text><text x="625.1" y="766.8" text-anchor="middle">40</text><text x="673.3" y="766.8" text-anchor="middle">45</text><text x="390.3" y="705.9" text-anchor="end">0.0</text><text x="390.3" y="643.44" text-anchor="end">0.2</text><text x="390.3" y="580.98" text-anchor="end">0.4</text><text x="390.3" y="518.52" text-anchor="end">0.6</text><text x="390.3" y="456.06" text-anchor="end">0.8</text></g>
<text x="543.1" y="789.6" text-anchor="middle" font-size="12.6" fill="#111111">Age</text>
<text transform="translate(364.6 593) rotate(-90)" text-anchor="middle" font-size="12.85" fill="#111111">Probability</text>
<text x="538.2" y="432" text-anchor="middle" font-size="15.3" fill="#111111">Sweden</text>
<path d="M604.6 452.6H623.6" stroke="#61D04F" stroke-width="2.3"/>
<path d="M604.6 464.6H623.6" stroke="#CD0BBC" stroke-width="2.3"/>
<g font-size="9.9" fill="#111111"><text x="632.4" y="455.7">Partner</text><text x="632.4" y="467.7">No partner</text></g>
<text class="hd" transform="translate(355.5 12.6) scale(0.81 1)" text-anchor="middle" font-size="19.5" fill="#111" stroke="#111" stroke-width="0.35">WOMEN</text>
<text class="hd" transform="translate(355.9 420.9) scale(0.79 1)" text-anchor="middle" font-size="19.5" fill="#111" stroke="#111" stroke-width="0.35">MEN</text>
</svg>
</body></html>
